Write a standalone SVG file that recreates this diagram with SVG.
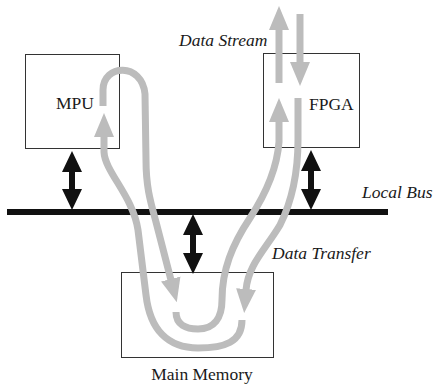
<svg xmlns="http://www.w3.org/2000/svg" width="435" height="388" viewBox="0 0 435 388">
  <style>
    .box { fill: #ffffff; stroke: #333333; stroke-width: 1; }
    .label { font-family: "Liberation Serif", "Times New Roman", serif; font-size: 17.5px; fill: #1a1a1a; }
    .note { font-family: "Liberation Serif", "Times New Roman", serif; font-size: 17.5px; font-style: italic; fill: #1a1a1a; }
    .flow { fill: none; stroke: #bcbcbc; stroke-width: 7; }
    .bus { fill: #111111; }
    .link { fill: #111111; }
  </style>
  <defs>
    <marker id="head" viewBox="0 0 24 22" markerWidth="24" markerHeight="22" refX="1" refY="11" orient="auto" markerUnits="userSpaceOnUse">
      <path d="M0,1 L24,11 L0,21 z" fill="#bcbcbc"/>
    </marker>
  </defs>

  <rect class="bg" x="0" y="0" width="435" height="388" fill="#ffffff"/>

  <!-- processing units and memory -->
  <g id="mpu">
    <rect class="box" x="25.5" y="54.5" width="94" height="94"/>
    <text class="label" x="75" y="109" text-anchor="middle">MPU</text>
  </g>
  <g id="fpga">
    <rect class="box" x="263.5" y="53.5" width="96" height="94"/>
    <text class="label" x="309" y="110">FPGA</text>
  </g>
  <g id="memory">
    <rect class="box" x="121.5" y="272.5" width="152" height="85"/>
    <text class="label" x="202" y="380" text-anchor="middle">Main Memory</text>
  </g>
  <g id="local-bus">
    <rect class="bus" x="7" y="209" width="381" height="6"/>
    <text class="note" x="362" y="198">Local Bus</text>
  </g>

  <!-- bus attachments and data flows -->
  <g id="connectors">
    <polygon class="link" points="72,151 82,172 75,172 75,189 82,189 72,210 62,189 69,189 69,172 62,172"/>
    <polygon class="link" points="311,150 321,171 314,171 314,189 321,189 311,210 301,189 308,189 308,171 301,171"/>
    <polygon class="link" points="193,214 203,235 196,235 196,253 203,253 193,274 183,253 190,253 190,235 183,235"/>

    <!-- MPU to memory -->
    <path class="flow" marker-end="url(#head)" d="M103,106 L103,90 C103,64 142,62 145,94 L146,160 C146,186 150,200 156,222 L171,280"/>
    <!-- memory to MPU -->
    <path class="flow" marker-end="url(#head)" d="M242,320 C242,342 225,348 198,348 C168,348 150,330 146,295 L138,230 C133,196 105,172 104,152 L104,136"/>
    <!-- memory to FPGA -->
    <path class="flow" marker-end="url(#head)" d="M176,312 C176,325 186,329 198,329 C214,329 222,318 222,300 C222,270 232,245 250,218 C265,195 277,170 279,142 L279,121"/>
    <!-- FPGA to memory -->
    <path class="flow" marker-end="url(#head)" d="M298,98 L298,140 C298,175 290,205 280,225 C265,250 248,265 246,290"/>
    <!-- external data stream -->
    <path class="flow" marker-end="url(#head)" d="M279,83 L279,29"/>
    <path class="flow" marker-end="url(#head)" d="M300,14 L300,63"/>
  </g>

  <text class="note" x="179" y="46">Data Stream</text>
  <text class="note" x="272" y="259">Data Transfer</text>
</svg>
